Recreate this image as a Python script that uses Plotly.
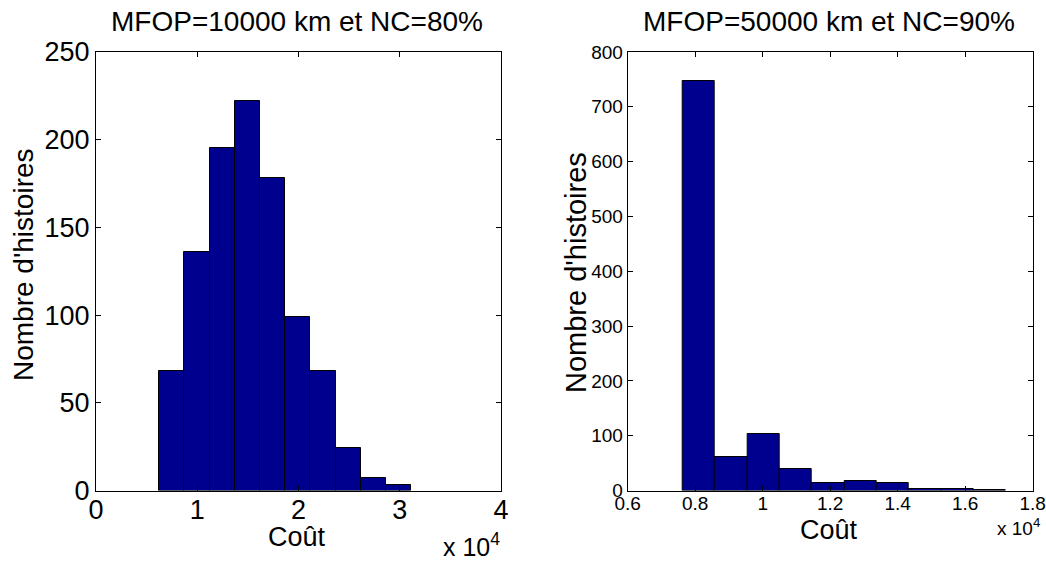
import plotly.graph_objects as go

# ---- Data ----
left_bin_centers = [7475, 9965, 12455, 14945, 17435, 19925, 22415, 24905, 27395, 29885]
left_bin_width = 2490
left_counts = [68, 136, 195, 222, 178, 99, 68, 24, 7, 3]

right_bin_centers = [8109, 9067, 10025, 10983, 11941, 12899, 13857, 14815, 15773, 16731]
right_bin_width = 958
right_counts = [747, 61, 103, 40, 13, 18, 13, 2, 2, 1]

left_xticks = [0, 10000, 20000, 30000, 40000]
left_xticklabels = ["0", "1", "2", "3", "4"]
left_yticks = [0, 50, 100, 150, 200, 250]
right_xticks = [6000, 8000, 10000, 12000, 14000, 16000, 18000]
right_xticklabels = ["0.6", "0.8", "1", "1.2", "1.4", "1.6", "1.8"]
right_yticks = [0, 100, 200, 300, 400, 500, 600, 700, 800]

left_title = "MFOP=10000 km et NC=80%"
right_title = "MFOP=50000 km et NC=90%"
x_label = "Coût"
y_label = "Nombre d'histoires"

W, H = 1046, 562
FONT = "Liberation Sans, Arial, sans-serif"
BAR_COLOR = "rgb(0,0,143)"


def px(x):
    return x / W


def py(y):
    return (H - y) / H


fig = go.Figure()
fig.add_trace(go.Bar(x=left_bin_centers, y=left_counts, width=left_bin_width,
                     marker=dict(color=BAR_COLOR, line=dict(color="black", width=1)),
                     xaxis="x", yaxis="y", showlegend=False, hoverinfo="x+y"))
fig.add_trace(go.Bar(x=right_bin_centers, y=right_counts, width=right_bin_width,
                     marker=dict(color=BAR_COLOR, line=dict(color="black", width=1)),
                     xaxis="x2", yaxis="y2", showlegend=False, hoverinfo="x+y"))


def axis(size, **kw):
    d = dict(showline=True, linecolor="black", linewidth=1, mirror="ticks",
             ticks="inside", ticklen=5, tickcolor="black", showgrid=False,
             zeroline=False, automargin=False,
             tickfont=dict(color="black", family=FONT, size=size))
    d.update(kw)
    return d


ydom = [py(490.5), py(52)]
fig.update_layout(
    width=W, height=H,
    margin=dict(l=0, r=0, t=0, b=0, autoexpand=False),
    paper_bgcolor="white", plot_bgcolor="white",
    bargap=0,
    font=dict(family=FONT, color="black"),
    xaxis=axis(27, domain=[px(96), px(501)], range=[0, 40000], tickvals=left_xticks,
               ticktext=left_xticklabels, anchor="y", ticklabelstandoff=-5),
    yaxis=axis(27, domain=ydom, range=[0, 250], tickvals=left_yticks, anchor="x"),
    xaxis2=axis(19, domain=[px(627.7), px(1032.7)], range=[6000, 18000],
                tickvals=right_xticks, ticktext=right_xticklabels, anchor="y2",
                ticklabelstandoff=-4),
    yaxis2=axis(19, domain=ydom, range=[0, 800], tickvals=right_yticks, anchor="x2"),
)

ann = []
ann.append(dict(text=left_title, x=px(297), y=py(22), xref="paper", yref="paper",
                showarrow=False, xanchor="center", yanchor="middle", font=dict(size=28)))
ann.append(dict(text=right_title, x=px(829), y=py(22), xref="paper", yref="paper",
                showarrow=False, xanchor="center", yanchor="middle", font=dict(size=28)))
ann.append(dict(text=x_label, x=px(297), y=py(537), xref="paper", yref="paper",
                showarrow=False, xanchor="center", yanchor="middle", font=dict(size=27)))
ann.append(dict(text=x_label, x=px(829), y=py(530), xref="paper", yref="paper",
                showarrow=False, xanchor="center", yanchor="middle", font=dict(size=27)))
ann.append(dict(text=y_label, x=px(23), y=py(265), xref="paper", yref="paper",
                showarrow=False, xanchor="center", yanchor="middle", textangle=-90,
                font=dict(size=28)))
ann.append(dict(text=y_label, x=px(576), y=py(273), xref="paper", yref="paper",
                showarrow=False, xanchor="center", yanchor="middle", textangle=-90,
                font=dict(size=29)))
ann.append(dict(text="x 10<sup>4</sup>", x=px(502), y=py(545), xref="paper", yref="paper",
                showarrow=False, xanchor="right", yanchor="middle", font=dict(size=25)))
ann.append(dict(text="x 10<sup>4</sup>", x=px(1042), y=py(527), xref="paper", yref="paper",
                showarrow=False, xanchor="right", yanchor="middle", font=dict(size=19)))
fig.update_layout(annotations=ann)

fig.write_html(
    "out.html",
    config={"displayModeBar": False},
    post_script="document.body.style.margin='0';document.body.style.overflow='hidden';",
)
